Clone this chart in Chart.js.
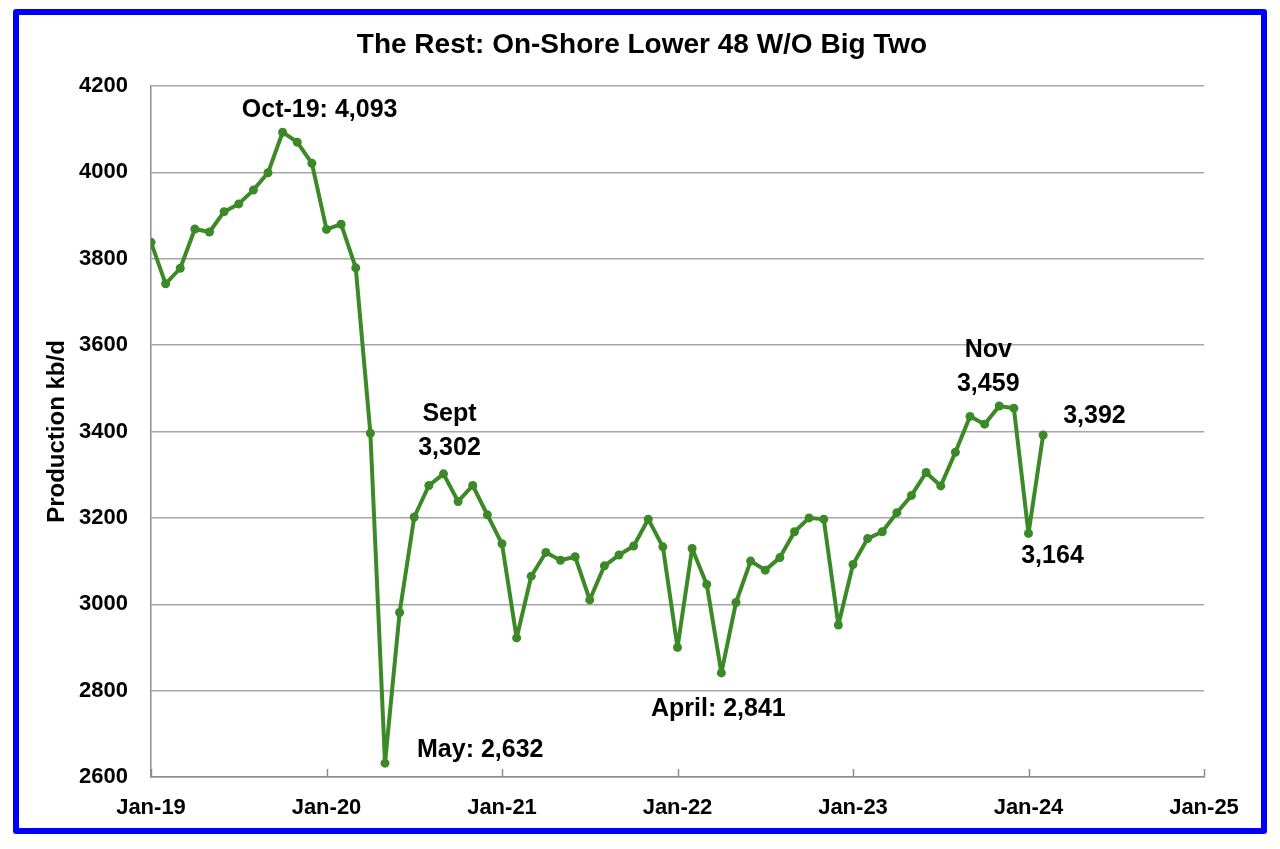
<!DOCTYPE html>
<html>
<head>
<meta charset="utf-8">
<script src="https://cdn.jsdelivr.net/npm/chart.js@4.4.1/dist/chart.umd.min.js"></script>
<style>
  html, body { margin: 0; padding: 0; background: #fff; }
  #wrap { position: relative; width: 1280px; height: 849px; }
  #frame {
    position: absolute; left: 13px; top: 9px; width: 1242px; height: 813px;
    border: 6px solid #0000ff; border-radius: 3px; pointer-events: none;
  }
</style>
</head>
<body>
<div id="wrap">
  <canvas id="chart" width="1280" height="849"></canvas>
  <div id="frame"></div>
</div>
<script>
// Данные: помесячно с Jan-19 по Feb-24, kb/d
const prod2019 = [3838, 3742, 3778, 3869, 3862, 3909, 3927, 3959, 3999, 4093, 4070, 4021];
const prod2020 = [3868, 3880, 3779, 3396, 2632, 2981, 3202, 3275, 3302, 3238, 3275, 3207];
const prod2021 = [3140, 2922, 3065, 3120, 3102, 3110, 3010, 3089, 3114, 3135, 3197, 3133];
const prod2022 = [2900, 3129, 3046, 2841, 3004, 3100, 3079, 3108, 3168, 3200, 3197, 2952];
const prod2023 = [3092, 3152, 3168, 3212, 3252, 3305, 3274, 3352, 3435, 3417, 3459, 3454];
const prod2024 = [3164, 3392];
const tickLabels = ['Jan-19', 'Jan-20', 'Jan-21', 'Jan-22', 'Jan-23', 'Jan-24', 'Jan-25'];
const titleText = 'The Rest: On-Shore Lower 48 W/O Big Two';
const yTitle = 'Production kb/d';

const production = [].concat(prod2019, prod2020, prod2021, prod2022, prod2023, prod2024);
const points = production.map((v, i) => ({ x: i, y: v }));

// Подписи: индекс месяца, строки, смещение от точки
const notes = [
  { i: 9,  lines: ['Oct-19: 4,093'], dx: 37, dy: -22, align: 'center' },
  { i: 20, lines: ['Sept', '3,302'], dx: 6, dy: -26, align: 'center' },
  { i: 16, lines: ['May: 2,632'], dx: 32, dy: -13, align: 'left' },
  { i: 39, lines: ['April: 2,841'], dx: -3, dy: 36, align: 'center' },
  { i: 58, lines: ['Nov', '3,459'], dx: -11, dy: -22, align: 'center' },
  { i: 61, lines: ['3,392'], dx: 20, dy: -19, align: 'left' },
  { i: 60, lines: ['3,164'], dx: 24, dy: 23, align: 'center' },
];

const FONT = '"Liberation Sans", Arial, Helvetica, sans-serif';
const GREEN = '#3c8a27';

const decorPlugin = {
  id: 'decor',
  afterDraw(chart) {
    const { ctx, scales } = chart;
    const xs = scales.x, ys = scales.y;
    ctx.save();
    // заголовок
    ctx.fillStyle = '#000';
    ctx.font = 'bold 28px ' + FONT;
    ctx.textAlign = 'center';
    ctx.textBaseline = 'middle';
    ctx.fillText(titleText, 642, 45);

    // короткие засечки внутрь над осью X
    ctx.strokeStyle = '#8c8c8c';
    ctx.lineWidth = 1.5;
    xs.ticks.forEach((t) => {
      const x = Math.round(xs.getPixelForValue(t.value)) + 0.5;
      ctx.beginPath();
      ctx.moveTo(x, ys.bottom);
      ctx.lineTo(x, ys.bottom - 8);
      ctx.stroke();
    });

    // подписи значений
    ctx.font = 'bold 25px ' + FONT;
    notes.forEach((n) => {
      const px = xs.getPixelForValue(n.i);
      const py = ys.getPixelForValue(production[n.i]);
      ctx.textAlign = n.align;
      const lh = 34;
      n.lines.forEach((line, k) => {
        const y = py + n.dy - (n.lines.length - 1 - k) * lh;
        ctx.fillText(line, px + n.dx, y);
      });
    });
    ctx.restore();
  },
};

new Chart(document.getElementById('chart').getContext('2d'), {
  type: 'line',
  data: {
    datasets: [{
      label: 'Production',
      data: points,
      borderColor: GREEN,
      backgroundColor: GREEN,
      borderWidth: 4,
      borderJoinStyle: 'round',
      borderCapStyle: 'round',
      pointRadius: 4.5,
      pointHoverRadius: 4.5,
      pointBackgroundColor: GREEN,
      pointBorderWidth: 0,
      tension: 0,
    }],
  },
  options: {
    responsive: false,
    animation: false,
    layout: { padding: { top: 86, right: 76, bottom: 0, left: 0 } },
    plugins: {
      legend: { display: false },
      tooltip: { enabled: false },
      title: { display: false },
    },
    scales: {
      x: {
        type: 'linear',
        min: 0,
        max: 72,
        afterFit(scale) { scale.height = 72; },
        grid: { display: false, drawTicks: false },
        border: { display: true, color: '#8c8c8c', width: 1.5 },
        ticks: {
          stepSize: 12,
          padding: 18,
          color: '#000',
          font: { family: FONT, size: 22, weight: 'bold' },
          maxRotation: 0,
          autoSkip: false,
          callback: (v) => tickLabels[v / 12],
        },
      },
      y: {
        min: 2600,
        max: 4200,
        afterFit(scale) { scale.width = 151; },
        grid: { color: '#a6a6a6', lineWidth: 1.5, drawTicks: false },
        border: { display: true, color: '#8c8c8c', width: 1.5 },
        ticks: {
          stepSize: 200,
          padding: 23,
          color: '#000',
          font: { family: FONT, size: 22, weight: 'bold' },
          callback: (v) => String(v),
        },
        title: {
          display: true,
          text: yTitle,
          color: '#000',
          font: { family: FONT, size: 24, weight: 'bold' },
          padding: { top: 43, bottom: 0 },
        },
      },
    },
  },
  plugins: [decorPlugin],
});
</script>
</body>
</html>
